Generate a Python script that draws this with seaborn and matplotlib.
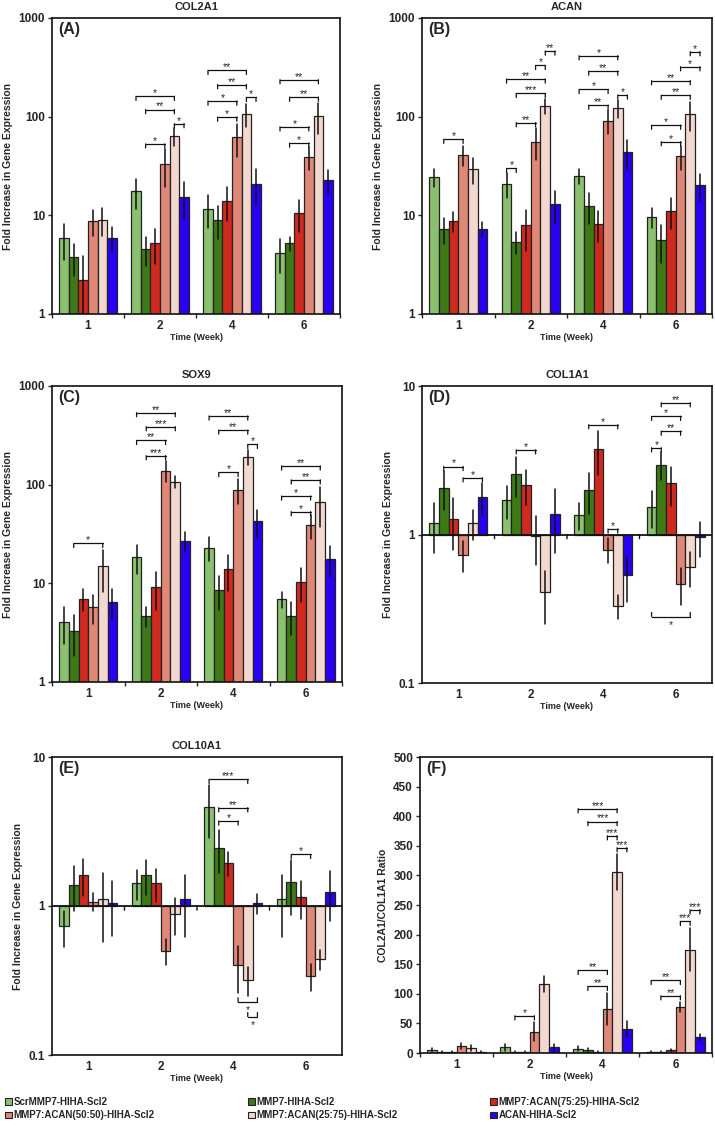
import numpy as np
import pandas as pd
import matplotlib
matplotlib.use("Agg")
import matplotlib.pyplot as plt
import matplotlib.ticker as mticker
from matplotlib.patches import Patch
import seaborn as sns

weeks = ["1", "2", "4", "6"]
groups = ["ScrMMP7-HIHA-Scl2", "MMP7-HIHA-Scl2", "MMP7:ACAN(75:25)-HIHA-Scl2",
          "MMP7:ACAN(50:50)-HIHA-Scl2", "MMP7:ACAN(25:75)-HIHA-Scl2", "ACAN-HIHA-Scl2"]
colors = ["#8bc070", "#3d7a16", "#d02a1e", "#e08878", "#f3d8cf", "#2a00f5"]

# one row per group, one column per week
col2a1 = [[5.9, 17.6, 11.7, 4.2], [3.8, 4.6, 9.0, 5.2], [2.2, 5.2, 14.1, 10.6],
          [8.8, 33.4, 61.8, 39.0], [9.0, 63.7, 106, 102], [5.9, 15.5, 20.9, 22.8]]
col2a1_sd = [[2.35, 6.0, 4.3, 1.6], [1.35, 1.5, 3.3, 0.9], [1.7, 2.0, 5.3, 3.8],
             [2.6, 14, 22.8, 10], [2.85, 13, 27, 36], [1.65, 6.3, 8.3, 6.2]]

acan = [[24.5, 20.9, 25.2, 9.7], [7.3, 5.4, 12.4, 5.6], [8.8, 7.9, 8.2, 11.1],
        [40.9, 56, 91, 39.6], [29.7, 128, 121, 107], [7.3, 12.9, 43.5, 20.1]]
acan_sd = [[5, 6, 4.6, 2.3], [2.2, 1.3, 4.3, 2.3], [2, 3.5, 2.8, 3.9],
           [9.3, 20, 25, 10.6], [8.8, 22, 25, 35], [1.2, 4.8, 14, 6.1]]

sox9 = [[4.1, 18.5, 23, 6.9], [3.3, 4.7, 8.6, 4.7], [7.0, 9.2, 13.9, 10.4],
        [5.8, 139, 88, 38.7], [14.9, 107, 191, 66.2], [6.5, 27, 42.5, 17.8]]
sox9_sd = [[1.7, 6, 6.2, 1.25], [1.45, 1.1, 3.2, 1.7], [1.8, 3.8, 5.6, 3.9],
           [1.9, 33, 25, 10.5], [6.7, 15, 31, 29], [2.2, 6.4, 13.5, 6.3]]

col1a1 = [[1.19, 1.70, 1.35, 1.54], [2.06, 2.56, 1.98, 2.96], [1.27, 2.15, 3.74, 2.21],
          [0.73, 0.98, 0.79, 0.465], [1.19, 0.41, 0.33, 0.60], [1.79, 1.38, 0.53, 0.96]]
col1a1_sd = [[0.44, 0.43, 0.28, 0.43], [0.6, 0.76, 0.6, 0.63], [0.48, 0.58, 1.24, 0.65],
             [0.17, 0.36, 0.15, 0.13], [0.27, 0.16, 0.06, 0.16], [0.44, 0.63, 0.18, 0.25]]

col10a1 = [[0.73, 1.42, 4.64, 1.12], [1.39, 1.61, 2.46, 1.45], [1.61, 1.42, 1.95, 1.15],
           [1.07, 0.50, 0.40, 0.34], [1.12, 0.89, 0.32, 0.44], [1.05, 1.12, 1.05, 1.25]]
col10a1_sd = [[0.2, 0.33, 1.8, 0.5], [0.46, 0.42, 0.8, 0.58], [0.45, 0.36, 0.36, 0.33],
              [0.15, 0.1, 0.14, 0.07], [0.55, 0.25, 0.07, 0.07], [0.42, 0.5, 0.16, 0.46]]

ratio = [[5, 10, 7.3, 2], [2, 2, 4.5, 2], [2, 2, 2, 4.5],
         [12, 36, 75, 77.7], [8, 116.5, 306, 174.5], [2, 10, 40.5, 26.5]]
ratio_sd = [[3, 6, 4, 1], [1, 1, 3.5, 1], [1, 1, 2, 2],
            [5, 16, 27, 9], [5, 13, 30, 36], [1.5, 6, 13.5, 6]]

# significance brackets: (week index, group a, group b, height, label, below)
sig_a = [(1, 1, 3, 53, "*"), (1, 4, 5, 85, "*"), (1, 1, 4, 118, "**"), (1, 0, 4, 161, "*"),
         (2, 1, 3, 99, "*"), (2, 0, 3, 144, "*"), (2, 4, 5, 157, "*"), (2, 1, 4, 211, "**"),
         (2, 0, 4, 295, "**"), (3, 1, 3, 54, "*"), (3, 0, 3, 79, "*"), (3, 1, 4, 158, "**"),
         (3, 0, 4, 237, "**")]
sig_b = [(0, 1, 3, 59, "*"), (1, 0, 1, 29.9, "*"), (1, 1, 3, 87, "**"), (1, 1, 4, 172, "***"),
         (1, 0, 4, 241, "**"), (1, 3, 4, 331, "*"), (1, 4, 5, 463, "**"), (2, 1, 3, 131, "**"),
         (2, 0, 3, 189, "*"), (2, 4, 5, 166, "*"), (2, 1, 4, 290, "**"), (2, 0, 4, 415, "*"),
         (3, 1, 3, 55.8, "*"), (3, 0, 3, 82, "*"), (3, 1, 4, 165, "**"), (3, 0, 4, 232, "**"),
         (3, 3, 5, 321, "*"), (3, 4, 5, 456, "*")]
sig_c = [(0, 1, 4, 25.4, "*"), (1, 1, 3, 197, "***"), (1, 0, 3, 281, "**"), (1, 1, 4, 387, "***"),
         (1, 0, 4, 537, "**"), (2, 1, 3, 133, "*"), (2, 4, 5, 256, "*"), (2, 1, 4, 358, "**"),
         (2, 0, 4, 497, "**"), (3, 1, 3, 53.3, "*"), (3, 0, 3, 76.8, "*"), (3, 1, 4, 112, "**"),
         (3, 0, 4, 155, "**")]
sig_d = [(0, 1, 3, 2.87, "*"), (0, 3, 5, 2.41, "*"), (1, 1, 3, 3.72, "*"), (2, 1, 4, 5.49, "*"),
         (2, 3, 4, 1.09, "*"), (3, 0, 1, 3.84, "*"), (3, 1, 3, 4.97, "**"), (3, 0, 3, 6.25, "*"),
         (3, 1, 4, 7.72, "**"), (3, 0, 4, 0.28, "*", True)]
sig_e = [(2, 1, 3, 3.72, "*"), (2, 1, 4, 4.57, "**"), (2, 0, 4, 7.08, "***"),
         (2, 3, 5, 0.227, "*", True), (2, 4, 5, 0.181, "*", True), (3, 1, 3, 2.22, "*")]
sig_f = [(1, 1, 3, 63, "*"), (2, 1, 3, 112.6, "**"), (2, 0, 3, 139.6, "**"), (2, 4, 5, 346.8, "***"),
         (2, 3, 4, 367, "***"), (2, 1, 4, 391, "***"), (2, 0, 4, 412.7, "***"),
         (3, 1, 3, 96.8, "**"), (3, 0, 3, 122.7, "**"), (3, 3, 4, 222.4, "***"), (3, 4, 5, 242, "***")]

sns.set_style("ticks")
plt.rcParams["font.family"] = ["Liberation Sans", "DejaVu Sans"]
plt.rcParams["axes.linewidth"] = 1.2


def bracket(ax, x1, x2, y, label, below=False):
    d = 3 if below else -3
    ax.plot([x1, x2], [y, y], color="#111111", lw=0.9, zorder=4)
    for x in (x1, x2):
        ax.annotate("", xy=(x, y), xytext=(0, d), textcoords="offset points",
                    arrowprops=dict(arrowstyle="-", lw=0.9, color="#111111", shrinkA=0, shrinkB=0))
    if below:
        ax.annotate(label, xy=((x1 + x2) / 2, y), xytext=(0, -2.5), textcoords="offset points",
                    ha="center", va="top", fontsize=7.5)
    else:
        ax.annotate(label, xy=((x1 + x2) / 2, y), xytext=(0, 0), textcoords="offset points",
                    ha="center", va="baseline", fontsize=7.5)


def draw_panel(ax, means, sds, sigs, title, tag, ylabel, log=True, ylim=(1, 1000), base=None):
    df = pd.DataFrame([(w, g, means[gi][wi]) for gi, g in enumerate(groups)
                       for wi, w in enumerate(weeks)], columns=["week", "group", "value"])
    sns.barplot(data=df, x="week", y="value", hue="group", order=weeks, hue_order=groups,
                palette=colors, saturation=1, errorbar=None, edgecolor="#222222",
                linewidth=0.9, width=0.8, legend=False, ax=ax)

    centers = np.zeros((len(weeks), len(groups)))
    for gi, cont in enumerate(ax.containers):
        for wi, bar in enumerate(cont):
            x = bar.get_x() + bar.get_width() / 2
            centers[wi, gi] = x
            if base is not None:
                h = bar.get_height()
                bar.set_y(base)
                bar.set_height(h - base)
            m, s = means[gi][wi], sds[gi][wi]
            ax.plot([x, x], [max(m - s, 1e-3), m + s], color="#111111", lw=1.1, zorder=3)

    if log:
        ax.set_yscale("log")
        ax.yaxis.set_major_locator(mticker.LogLocator(base=10, numticks=10))
        ax.yaxis.set_major_formatter(mticker.FuncFormatter(lambda v, p: f"{v:g}"))
        ax.yaxis.set_minor_locator(mticker.NullLocator())
    else:
        ax.yaxis.set_major_locator(mticker.MultipleLocator(50))
    ax.set_ylim(*ylim)
    ax.set_xlim(-0.5, 3.5)

    ax.set_xticks([-0.5, 0.5, 1.5, 2.5, 3.5], minor=True)
    ax.tick_params(axis="x", which="major", length=0, pad=4, labelsize=8.5)
    ax.tick_params(axis="x", which="minor", length=0 if base else 3, width=1)
    ax.tick_params(axis="y", which="major", length=3, width=1, pad=2, labelsize=8.5)
    for lab in ax.get_xticklabels() + ax.get_yticklabels():
        lab.set_fontweight("bold")
    for sp in ax.spines.values():
        sp.set_visible(True)
        sp.set_color("#111111")

    if base is not None:
        ax.axhline(base, color="#111111", lw=1.3, zorder=3)
        for b in [0.5, 1.5, 2.5]:
            ax.annotate("", xy=(b, base), xytext=(0, -3), textcoords="offset points",
                        arrowprops=dict(arrowstyle="-", lw=1, color="#111111", shrinkA=0, shrinkB=0))

    for s in sigs:
        wi, a, b, y, lab = s[:5]
        below = len(s) > 5 and s[5]
        bracket(ax, centers[wi, a], centers[wi, b], y, lab, below)

    if title:
        ax.set_title(title, fontsize=8, fontweight="bold", pad=6)
    ax.text(0.02, 0.985, tag, transform=ax.transAxes, ha="left", va="top",
            fontsize=11.5, fontweight="bold")
    ax.set_xlabel("Time (Week)", fontsize=6.5, fontweight="bold", labelpad=1)
    ax.set_ylabel(ylabel, fontsize=7.5, fontweight="bold", labelpad=4)


fig = plt.figure(figsize=(7.15, 11.38), dpi=100)
W, H = 715, 1138


def box(l, t, r, b):
    return [l / W, 1 - b / H, (r - l) / W, (b - t) / H]


fold = "Fold Increase in Gene Expression"
ax_a = fig.add_axes(box(52, 18, 340, 314))
draw_panel(ax_a, col2a1, col2a1_sd, sig_a, "COL2A1", "(A)", fold)
ax_b = fig.add_axes(box(422, 18, 712, 314))
draw_panel(ax_b, acan, acan_sd, sig_b, "ACAN", "(B)", fold)
ax_c = fig.add_axes(box(52, 386, 342, 682))
draw_panel(ax_c, sox9, sox9_sd, sig_c, "SOX9", "(C)", fold)
ax_d = fig.add_axes(box(422, 386, 712, 683))
draw_panel(ax_d, col1a1, col1a1_sd, sig_d, "COL1A1", "(D)", fold, ylim=(0.1, 10), base=1)
ax_e = fig.add_axes(box(52, 757, 342, 1055))
draw_panel(ax_e, col10a1, col10a1_sd, sig_e, "COL10A1", "(E)", fold, ylim=(0.1, 10), base=1)
ax_f = fig.add_axes(box(420, 757, 712, 1053))
draw_panel(ax_f, ratio, ratio_sd, sig_f, None, "(F)", "COL2A1/COL1A1 Ratio",
           log=False, ylim=(0, 500))

# legend: three columns of two entries each
handles = [Patch(facecolor=c, edgecolor="#222222", linewidth=0.8) for c in colors]
for k, x0 in enumerate([5, 248, 490]):
    idx = [k, k + 3]
    leg = fig.legend([handles[i] for i in idx], [groups[i] for i in idx],
                     loc="upper left", bbox_to_anchor=(x0 / W, 1 - 1097 / H),
                     frameon=False, borderaxespad=0, borderpad=0, handlelength=0.7,
                     handleheight=0.7, handletextpad=0.2, labelspacing=0.35,
                     prop={"size": 7, "weight": "bold"})

fig.savefig("out.png", dpi=100)
